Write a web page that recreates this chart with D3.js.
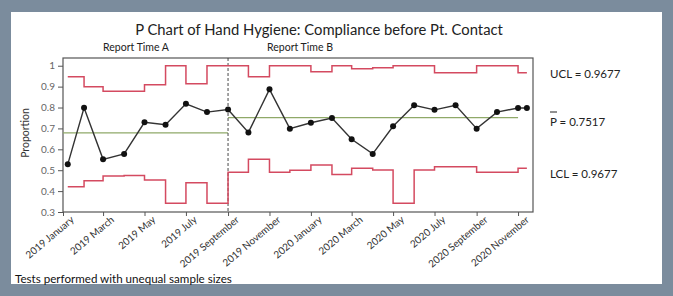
<!DOCTYPE html>
<html>
<head>
<meta charset="utf-8">
<script src="https://cdn.jsdelivr.net/npm/d3@7"></script>
<style>
  body { margin: 0; background: #7b8c9d; }
  svg { display: block; }
</style>
</head>
<body>
<div id="chart"></div>
<script>
(function() {

// ---- data ----
var months = ['2019-01-08','2019-02-01','2019-03-01','2019-04-01','2019-05-01','2019-06-01',
              '2019-07-01','2019-08-01','2019-09-01','2019-10-01','2019-11-01','2019-12-01',
              '2020-01-01','2020-02-01','2020-03-01','2020-04-01','2020-05-01','2020-06-01',
              '2020-07-01','2020-08-01','2020-09-01','2020-10-01','2020-11-01','2020-11-14'];
var proportion = [0.528, 0.799, 0.552, 0.578, 0.729, 0.718, 0.818, 0.778, 0.790, 0.681, 0.887, 0.699,
                  0.727, 0.750, 0.648, 0.578, 0.710, 0.811, 0.789, 0.811, 0.699, 0.778, 0.798, 0.798];
var ucl = [0.947, 0.900, 0.878, 0.878, 0.909, 1.000, 0.914, 1.000, 1.000, 0.947, 1.000, 1.000,
           0.971, 1.000, 0.986, 0.990, 1.000, 1.000, 0.967, 0.967, 1.000, 1.000, 0.967, 0.967];
var lcl = [0.421, 0.450, 0.472, 0.475, 0.453, 0.342, 0.440, 0.342, 0.490, 0.552, 0.490, 0.500,
           0.525, 0.480, 0.509, 0.501, 0.342, 0.501, 0.517, 0.517, 0.490, 0.490, 0.509, 0.509];

var phaseNames = ['Report Time A', 'Report Time B'];
var phaseStart = ['2019-01-01', '2019-09-01'];
var phaseEnd = ['2019-09-01', '2020-11-01'];
var phaseCenter = [0.679, 0.7517];

var yTicks = [0.3, 0.4, 0.5, 0.6, 0.7, 0.8, 0.9, 1];
var limitLabels = ['UCL = 0.9677', 'P = 0.7517', 'LCL = 0.9677'];

var parse = d3.timeParse('%Y-%m-%d');
var data = months.map(function(m, i) {
  return { date: parse(m), p: proportion[i], ucl: ucl[i], lcl: lcl[i] };
});

var W = 673, H = 296;
var margin = {top: 58, left: 63},
    width = 470,
    height = 154;
var font = 'Lato, "Open Sans", sans-serif';

var svg = d3.select('#chart').append('svg')
    .attr('width', W)
    .attr('height', H)
    .style('font-family', font);

// white card
svg.append('rect')
    .attr('x', 11).attr('y', 12)
    .attr('width', 651).attr('height', 272)
    .attr('fill', '#ffffff');

var x = d3.scaleTime()
    .domain([parse('2019-01-01'), parse('2020-11-23')])
    .range([0, width]);

var y = d3.scaleLinear()
    .domain([0.3, 1.037])
    .range([height, 0]);

var g = svg.append('g')
    .attr('transform', 'translate(' + margin.left + ',' + margin.top + ')');

// frame
g.append('rect')
    .attr('width', width).attr('height', height)
    .attr('fill', 'none')
    .attr('stroke', '#555')
    .attr('stroke-width', 1.2);

// phase centre lines
phaseCenter.forEach(function(c, i) {
  g.append('line')
      .attr('x1', x(parse(phaseStart[i])))
      .attr('x2', x(parse(phaseEnd[i])))
      .attr('y1', y(c)).attr('y2', y(c))
      .attr('stroke', '#8fa968')
      .attr('stroke-width', 1.2);
});

// phase divider
g.append('line')
    .attr('x1', x(parse(phaseStart[1]))).attr('x2', x(parse(phaseStart[1])))
    .attr('y1', 0).attr('y2', height)
    .attr('stroke', '#333')
    .attr('stroke-dasharray', '3,2')
    .attr('stroke-width', 0.9);

// control limits (step after each point)
var stepLine = function(key) {
  return d3.line()
      .x(function(d) { return x(d.date); })
      .y(function(d) { return y(d[key]); })
      .curve(d3.curveStepAfter);
};

['ucl', 'lcl'].forEach(function(k) {
  g.append('path')
      .datum(data)
      .attr('d', stepLine(k))
      .attr('fill', 'none')
      .attr('stroke', '#d44a60')
      .attr('stroke-width', 1.5);
});

// proportion line and dots
g.append('path')
    .datum(data)
    .attr('d', d3.line()
        .x(function(d) { return x(d.date); })
        .y(function(d) { return y(d.p); }))
    .attr('fill', 'none')
    .attr('stroke', '#333')
    .attr('stroke-width', 1.4);

g.selectAll('.dot')
    .data(data)
    .enter().append('circle')
    .attr('class', 'dot')
    .attr('cx', function(d) { return x(d.date); })
    .attr('cy', function(d) { return y(d.p); })
    .attr('r', 3)
    .attr('fill', '#111');

// y axis
var yAxis = g.append('g')
    .call(d3.axisLeft(y)
        .tickValues(yTicks)
        .tickSize(5)
        .tickFormat(function(d) { return d === 1 ? '1' : d3.format('.1f')(d); }));
yAxis.select('.domain').remove();
yAxis.selectAll('line').attr('stroke', '#555');
yAxis.selectAll('text')
    .attr('fill', '#666')
    .style('font-size', '10px')
    .style('font-family', font);

// x axis
var xAxis = g.append('g')
    .attr('transform', 'translate(0,' + height + ')')
    .call(d3.axisBottom(x)
        .ticks(d3.timeMonth.every(2))
        .tickSize(4)
        .tickFormat(d3.timeFormat('%Y %B')));
xAxis.select('.domain').remove();
xAxis.selectAll('line').attr('stroke', '#555');
xAxis.selectAll('text')
    .attr('fill', '#333')
    .style('font-size', '10px')
    .style('font-family', font)
    .style('text-anchor', 'end')
    .attr('dx', '3')
    .attr('dy', '7')
    .attr('transform', 'rotate(-40)');

// axis label
g.append('text')
    .attr('transform', 'rotate(-90)')
    .attr('x', -height / 2 + 2)
    .attr('y', -34)
    .style('text-anchor', 'middle')
    .style('font-size', '10.5px')
    .attr('fill', '#333')
    .text('Proportion');

// phase labels
var phaseLabelX = [136, 300];
phaseNames.forEach(function(n, i) {
  svg.append('text')
      .attr('x', phaseLabelX[i])
      .attr('y', 51)
      .style('text-anchor', 'middle')
      .style('font-size', '10.5px')
      .attr('fill', '#222')
      .text(n);
});

// title
svg.append('text')
    .attr('x', 319)
    .attr('y', 35)
    .style('text-anchor', 'middle')
    .style('font-size', '14.8px')
    .attr('fill', '#222')
    .text('P Chart of Hand Hygiene: Compliance before Pt. Contact');

// limit labels on the right
var labelY = [78, 126, 178];
limitLabels.forEach(function(t, i) {
  svg.append('text')
      .attr('x', 550)
      .attr('y', labelY[i])
      .style('font-size', '11.5px')
      .attr('fill', '#222')
      .text(t);
});
svg.append('line')
    .attr('x1', 550).attr('x2', 557)
    .attr('y1', 112).attr('y2', 112)
    .attr('stroke', '#222')
    .attr('stroke-width', 1);

// footnote
svg.append('text')
    .attr('x', 15)
    .attr('y', 283)
    .style('font-size', '11.6px')
    .attr('fill', '#111')
    .text('Tests performed with unequal sample sizes');

})();
</script>
</body>
</html>
